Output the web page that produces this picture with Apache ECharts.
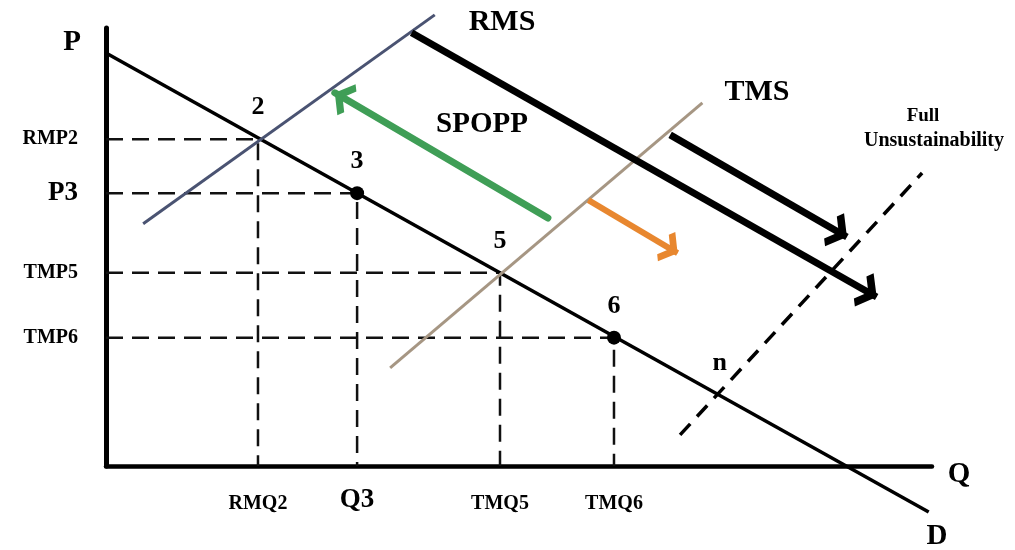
<!DOCTYPE html>
<html>
<head>
<meta charset="utf-8">
<script src="https://cdn.jsdelivr.net/npm/echarts@6/dist/echarts.min.js"></script>
<style>
  html, body { margin: 0; padding: 0; background: #fff; }
  #chart { width: 1015px; height: 550px; }
</style>
</head>
<body>
<div id="chart"></div>
<script>
// ---- data (axis units: quantity 0..100, price 0..100) ----
const demandLine = [[0, 94.3], [99.6, -10.5]];
const rmsLine = [[4.5, 55.3], [39.8, 103.0]];
const tmsLine = [[34.4, 22.4], [72.2, 82.9]];
const fullUnsustLine = [[69.5, 7.1], [98.8, 66.9]];

const pointNames = ['2', '3', '5', '6'];
const pointQ = [18.4, 30.4, 47.7, 61.5];
const pointP = [74.6, 62.3, 44.1, 29.3];
const dottedPoints = ['3', '6'];
const nPoint = [74.3, 16.3];

const xTickLabels = ['RMQ2', 'Q3', 'TMQ5', 'TMQ6'];
const yTickLabels = ['RMP2', 'P3', 'TMP5', 'TMP6'];

const rmsShiftArrow = [[37.0, 98.9], [93.3, 38.6]];
const tmsShiftArrow = [[68.3, 75.6], [89.7, 52.3]];
const spoppArrow = [[53.5, 56.6], [27.7, 85.2]];
const tmsOrangeArrow = [[58.4, 60.7], [69.2, 48.6]];

// ---- chart ----
const SERIF = '"Liberation Serif", "Times New Roman", serif';
const bigTicks = new Set(['P3', 'Q3']);
const chevron = 'path://M0,-16.9 M0,0 L12.7,12.7 L8.5,16.9 L0,8.5 L-8.5,16.9 L-12.7,12.7 Z';

function seg(pair, color, width, dash, cap) {
  return {
    type: 'line', data: pair, symbol: 'none', clip: false, silent: true,
    lineStyle: { color: color, width: width, type: dash || 'solid', cap: cap || 'butt' },
    z: 3
  };
}
function arrow(pair, color, width, size, cap) {
  return {
    type: 'lines', coordinateSystem: 'cartesian2d', clip: false, silent: true,
    symbol: ['none', chevron], symbolSize: size,
    lineStyle: { color: color, width: width, opacity: 1, curveness: 0, cap: cap || 'butt' },
    data: [{ coords: pair }], z: 5
  };
}

const guideCoords = pointNames.map((n, i) => ({
  coords: [[0, pointP[i]], [pointQ[i], pointP[i]], [pointQ[i], 0]]
}));

const labelData = pointNames.map((n, i) => ({ name: n, value: [pointQ[i], pointP[i]] }))
  .concat([{ name: 'n', value: nPoint }]);
const dotData = pointNames.map((n, i) => [pointQ[i], pointP[i], n])
  .filter(d => dottedPoints.includes(d[2]));

function txt(text, x, y, size) {
  return {
    type: 'text', x: x, y: y, z: 100, silent: true,
    style: {
      text: text, font: 'bold ' + size + 'px ' + SERIF, fill: '#000',
      align: 'center', verticalAlign: 'middle',
      textAlign: 'center', textVerticalAlign: 'middle'
    }
  };
}

const chart = echarts.init(document.getElementById('chart'), null, { renderer: 'canvas' });
chart.setOption({
  animation: false,
  backgroundColor: '#fff',
  grid: { left: 106, right: 83, top: 28, bottom: 84 },
  xAxis: {
    type: 'value', min: 0, max: 100,
    axisLine: { show: true, onZero: false, lineStyle: { color: '#000', width: 4.5 } },
    axisTick: { show: false },
    splitLine: { show: false },
    axisLabel: {
      customValues: pointQ,
      margin: 48,
      verticalAlign: 'bottom',
      formatter: v => {
        const i = pointQ.indexOf(v);
        const t = xTickLabels[i] || '';
        return '{' + (bigTicks.has(t) ? 'b' : 's') + '|' + t + '}';
      },
      rich: {
        b: { fontFamily: SERIF, fontWeight: 'bold', fontSize: 27, color: '#000' },
        s: { fontFamily: SERIF, fontWeight: 'bold', fontSize: 20, color: '#000' }
      }
    }
  },
  yAxis: {
    type: 'value', min: 0, max: 100,
    axisLine: { show: true, onZero: false, lineStyle: { color: '#000', width: 5 } },
    axisTick: { show: false },
    splitLine: { show: false },
    axisLabel: {
      customValues: pointP,
      margin: 28,
      formatter: v => {
        const i = pointP.indexOf(v);
        const t = yTickLabels[i] || '';
        return '{' + (bigTicks.has(t) ? 'b' : 's') + '|' + t + '}';
      },
      rich: {
        b: { fontFamily: SERIF, fontWeight: 'bold', fontSize: 27, color: '#000' },
        s: { fontFamily: SERIF, fontWeight: 'bold', fontSize: 20, color: '#000' }
      }
    }
  },
  series: [
    {
      type: 'lines', coordinateSystem: 'cartesian2d', polyline: true, silent: true, clip: false,
      lineStyle: { color: '#111', width: 2.5, type: [17, 9], opacity: 1 },
      data: guideCoords, z: 2
    },
    seg(demandLine, '#000', 3.5),
    seg(rmsLine, '#4a5372', 3),
    seg(tmsLine, '#a69683', 3),
    seg(fullUnsustLine, '#000', 3.5, [15, 10]),
    arrow(rmsShiftArrow, '#000', 7, [30, 38]),
    arrow(tmsShiftArrow, '#000', 7, [30, 38]),
    arrow(spoppArrow, '#3f9e56', 7, [28, 36], 'round'),
    arrow(tmsOrangeArrow, '#e8872f', 6, [26, 34]),
    {
      type: 'scatter', data: dotData, symbol: 'circle', symbolSize: 14, silent: true,
      itemStyle: { color: '#000', opacity: 1 }, z: 6
    },
    {
      type: 'scatter', data: labelData, symbol: 'circle', symbolSize: 1, silent: true,
      itemStyle: { color: 'rgba(0,0,0,0)', opacity: 1 }, z: 7,
      label: {
        show: true, position: 'top', distance: 18, formatter: p => p.name,
        fontFamily: SERIF, fontWeight: 'bold', fontSize: 26, color: '#000', opacity: 1
      }
    }
  ],
  graphic: [
    txt('P', 72, 43, 29),
    txt('RMS', 502, 22, 30),
    txt('TMS', 757, 92, 30),
    txt('SPOPP', 482, 125, 29),
    txt('Full', 923, 116, 19),
    txt('Unsustainability', 934, 141, 20),
    txt('Q', 959, 475, 29),
    txt('D', 937, 537, 29)
  ]
});
</script>
</body>
</html>
